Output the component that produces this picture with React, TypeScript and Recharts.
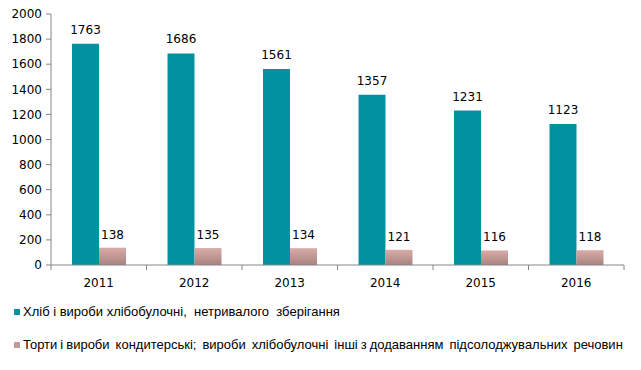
import { BarChart, Bar, XAxis, YAxis, Legend, LabelList } from 'recharts'

const years = ['2011', '2012', '2013', '2014', '2015', '2016']
const bread = [1763, 1686, 1561, 1357, 1231, 1123]
const cakes = [138, 135, 134, 121, 116, 118]
const yTicks = [0, 200, 400, 600, 800, 1000, 1200, 1400, 1600, 1800, 2000]

const breadName = 'Хліб і вироби хлібобулочні,  нетривалого  зберігання'
const cakesName = 'Торти і вироби  кондитерські;  вироби  хлібобулочні  інші з додаванням  підсолоджувальних  речовин'

const TEAL = '#00929f'
const AXIS = '#868686'
const NUM_FONT = '"DejaVu Sans", Verdana, sans-serif'
const LEGEND_FONT = '"Liberation Sans", Arial, sans-serif'

const data = years.map((year, i) => ({ year, bread: bread[i], cakes: cakes[i] }))

const W = 641
const H = 370
const MARGIN = { top: 14, right: 17, left: 0, bottom: 0 }
const Y_WIDTH = 51
const halfBand = (W - MARGIN.left - MARGIN.right - Y_WIDTH) / years.length / 2

function YearTick(props: any) {
  const { x, y, payload, index } = props
  return (
    <g>
      <line x1={x - halfBand} x2={x - halfBand} y1={y - 8} y2={y - 3} stroke={AXIS} />
      {index === years.length - 1 && (
        <line x1={x + halfBand} x2={x + halfBand} y1={y - 8} y2={y - 3} stroke={AXIS} />
      )}
      <text x={x} y={y + 14} textAnchor="middle" fontSize={12} fontFamily={NUM_FONT} fill="#000">
        {payload.value}
      </text>
    </g>
  )
}

function LegendBox() {
  const row = (color: string, text: string, top: number, spacing: number) => (
    <div style={{ position: 'absolute', left: 14, top, display: 'flex', alignItems: 'center', whiteSpace: 'pre' }}>
      <span style={{ width: 6, height: 6, background: color, display: 'inline-block', marginRight: 3 }} />
      <span style={{ fontFamily: LEGEND_FONT, fontSize: 13, color: '#000', wordSpacing: spacing }}>{text}</span>
    </div>
  )
  return (
    <div style={{ position: 'relative', width: W, height: 75 }}>
      {row(TEAL, breadName, 9, 0)}
      {row('#c09a96', cakesName, 42, -0.6)}
    </div>
  )
}

export default function App() {
  return (
    <div style={{ position: 'absolute', left: 0, top: 0, background: '#fff' }}>
      <BarChart width={W} height={H} data={data} margin={MARGIN} barCategoryGap="22%" barGap={0}>
        <defs>
          <linearGradient id="pinkGrad" x1="0" y1="0" x2="0" y2="1">
            <stop offset="0%" stopColor="#d9aca8" />
            <stop offset="100%" stopColor="#a8837f" />
          </linearGradient>
        </defs>
        <XAxis
          dataKey="year"
          stroke={AXIS}
          tickLine={false}
          height={30}
          tick={<YearTick />}
          interval={0}
        />
        <YAxis
          domain={[0, 2000]}
          ticks={yTicks}
          width={Y_WIDTH}
          stroke={AXIS}
          tickSize={5}
          tick={{ fill: '#000', fontSize: 12, fontFamily: NUM_FONT }}
          tickMargin={4}
        />
        <Legend verticalAlign="bottom" height={75} content={() => <LegendBox />} wrapperStyle={{ left: 0, bottom: 0 }} />
        <Bar dataKey="bread" name={breadName} fill={TEAL} isAnimationActive={false}>
          <LabelList dataKey="bread" position="top" offset={10} fill="#000" fontSize={12} fontFamily={NUM_FONT} />
        </Bar>
        <Bar dataKey="cakes" name={cakesName} fill="url(#pinkGrad)" isAnimationActive={false}>
          <LabelList dataKey="cakes" position="top" offset={9} fill="#000" fontSize={12} fontFamily={NUM_FONT} />
        </Bar>
      </BarChart>
    </div>
  )
}
